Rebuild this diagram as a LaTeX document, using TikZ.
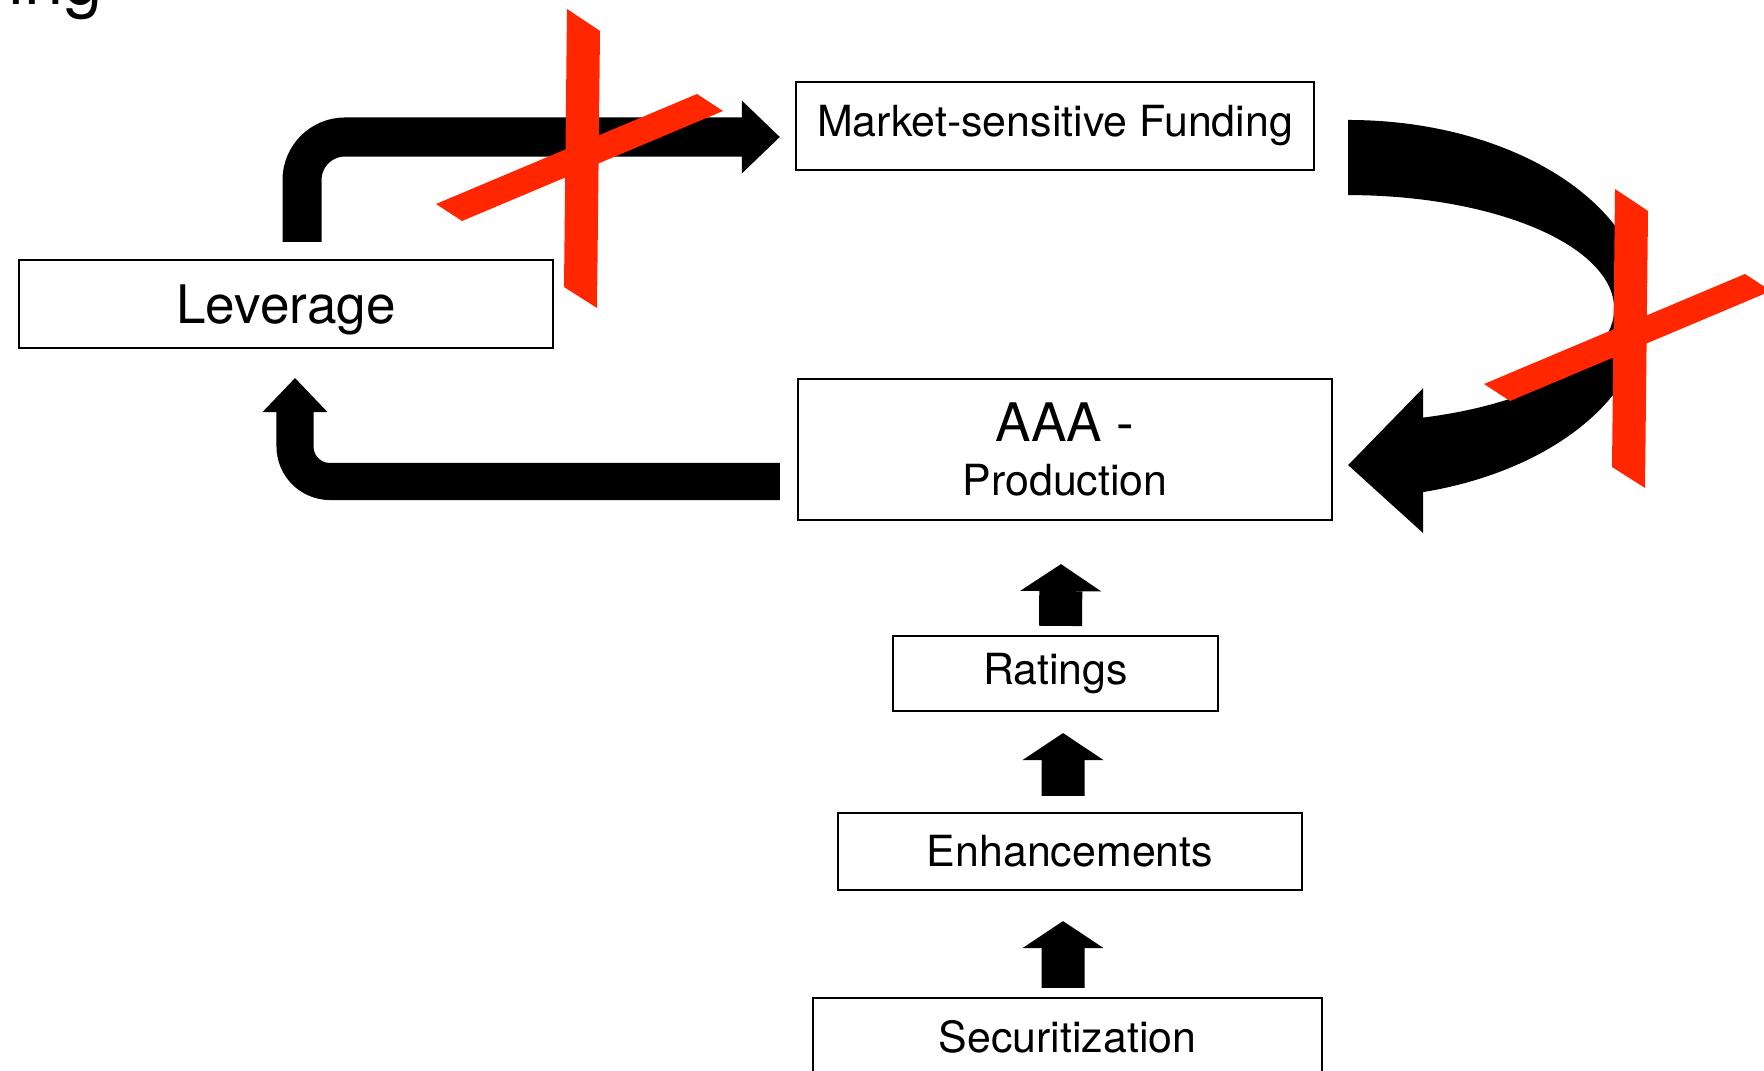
\documentclass[tikz,border=0pt]{standalone}
\usepackage{fontspec}
\setmainfont{TeX Gyre Heros}
\usepackage{tikz}
\usetikzlibrary{arrows.meta, positioning, calc}
\definecolor{colorCross}{RGB}{255, 38, 0}
\newcommand{\stagefont}{\fontsize{12.2}{15.2}\selectfont}
\newcommand{\bigstagefont}{\fontsize{15.1}{15.2}\selectfont}
\tikzstyle{stage} = [rectangle, draw=black, line width=0.6pt, text centered, align=center, inner sep=0pt, font=\stagefont]
\tikzstyle{bigarrow} = [line width=3.9mm, -{Triangle[length=3.8mm, width=7.3mm, line width=0pt]}]
\tikzstyle{backarrow} = [line width=3.7mm, -{Triangle[length=3.4mm, width=6.5mm, line width=0pt]}]
\tikzstyle{curvearrow} = [fill=black, draw=none]
\tikzstyle{uparrow} = [line width=4.3mm, -{Triangle[length=2.7mm, width=8.1mm, line width=0pt]}]
\tikzstyle{cross} = [fill=colorCross, draw=none]

\begin{document}
\begin{tikzpicture}[x=0.01cm, y=-0.01cm]

	\useasboundingbox (0,0) rectangle (1764,1071);

	% cut-off title
	\node (title)[anchor=base east, inner sep=0pt, font=\fontsize{20}{24}\selectfont] at (103,5) {ing};

	% boxes
	\node (lev)[stage, font=\bigstagefont, text depth=0pt, minimum width=5.34cm, minimum height=0.88cm] at (286,304) {Leverage};
	\node (msf)[stage, minimum width=5.18cm, minimum height=0.88cm] at (1055,126) {Market-sensitive Funding};
	\node (aaa)[stage, minimum width=5.34cm, minimum height=1.41cm] at (1065,449.5) {{\bigstagefont AAA -}\\Production};
	\node (rat)[stage, minimum width=3.25cm, minimum height=0.75cm] at (1055.5,673.5) {Ratings};
	\node (enh)[stage, minimum width=4.64cm, minimum height=0.77cm] at (1070,851.5) {Enhancements};
	\node (sec)[stage, minimum width=5.09cm, minimum height=0.77cm] at (1067.5,1036.5) {Securitization};

	% lines and arrows
	\draw[bigarrow, rounded corners=4.3mm] ([xshift=1.6mm, yshift=1.7mm]lev.north) |- ([xshift=-1.5mm, yshift=-1.1mm]msf.west);
	\draw[backarrow, rounded corners=3.5mm] ([xshift=-1.7mm, yshift=-3.2mm]aaa.west) -| ([xshift=0.9mm, yshift=-2.9mm]lev.south);

	% curved arrow from funding back to production
	\fill[curvearrow] ([xshift=3.3mm, yshift=0.6mm]msf.east)
		arc[start angle=90, end angle=-75.4, x radius=2.97cm, y radius=1.89cm]
		-- ++(0,41) -- ++(-75,-68) -- ++(75,-77) -- ++(0,29.5)
		arc[start angle=-73.6, end angle=90, x radius=2.66cm, y radius=1.135cm]
		-- cycle;

	\draw[uparrow] ([xshift=0.5mm, yshift=0.9mm]rat.north) -- ([xshift=-0.4mm, yshift=-4.3mm]aaa.south);
	\draw[uparrow] ([xshift=-0.7mm, yshift=1.6mm]enh.north) -- ([xshift=0.75mm, yshift=-2.1mm]rat.south);
	\draw[uparrow] ([xshift=-0.45mm, yshift=0.9mm]sec.north) -- ([xshift=-0.7mm, yshift=-3mm]enh.south);

	% red crosses
	\foreach \dx/\dy in {0/0, 1048/180}
	{
		\fill[cross, shift={(\dx,\dy)}] (567,9) -- (600,31) -- (597,308) -- (564,287) -- cycle;
		\fill[cross, shift={(\dx,\dy)}] (436,204) -- (697,94) -- (723,111) -- (462,221) -- cycle;
	}

\end{tikzpicture}
\end{document}
